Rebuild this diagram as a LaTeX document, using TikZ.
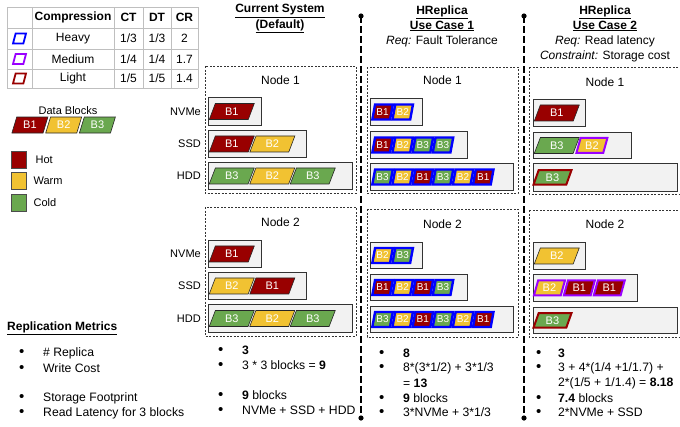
\documentclass[tikz,border=0pt]{standalone}
\usepackage{fontspec}
\setmainfont{Liberation Sans}
\usetikzlibrary{positioning}
\usetikzlibrary{shapes.geometric}

\definecolor{hotc}{HTML}{990000}
\definecolor{warmc}{HTML}{F1C232}
\definecolor{coldc}{HTML}{6AA84F}
\definecolor{heavyc}{HTML}{0000FF}
\definecolor{mediumc}{HTML}{9900FF}
\definecolor{linec}{HTML}{BFBFBF}

% fill a rack with blocks: [start shift]{rack}{style/label,...}
\newcommand{\fillrack}[3][3pt]{%
    \coordinate (#2-0) at ([xshift=#1]#2.west);
    \foreach \kind/\txt [count=\i, remember=\i as \j (initially 0)] in {#3}
        \node[\kind, right=1pt of #2-\j] (#2-\i) {\txt};
}
\newcommand{\bitem}[2][24pt]{\makebox[#1][l]{\smash{\raisebox{-0.6pt}{\fontsize{15}{15}\selectfont\textbullet}}}#2}

\begin{document}
\begin{tikzpicture}[
                x=1pt, y=-1pt,
                font=\fontsize{12}{14}\selectfont,
                blk/.style = {
                    trapezium,
                    trapezium left angle = 72,
                    trapezium right angle = 108,
                    trapezium stretches = true,
                    minimum width = 45pt,
                    minimum height = 16pt,
                    inner sep = 0pt,
                    draw = black!85,
                    line width = 0.6pt,
                    text = white,
                    font = \fontsize{11}{12}\selectfont
                },
                hot/.style = {blk, fill=hotc},
                warm/.style = {blk, fill=warmc},
                cold/.style = {blk, fill=coldc},
                sblk/.style = {blk, minimum width=20.5pt, minimum height=15pt, outer sep=0.7pt,
                    draw=heavyc, line width=2.4pt, font=\fontsize{10}{11}\selectfont},
                bhot/.style = {sblk, fill=hotc},
                bwarm/.style = {sblk, fill=warmc},
                bcold/.style = {sblk, fill=coldc},
                pblk/.style = {blk, minimum width=31pt, minimum height=15pt,
                    draw=mediumc, line width=2pt},
                phot/.style = {pblk, fill=hotc},
                pwarm/.style = {pblk, fill=warmc},
                rcold/.style = {blk, minimum width=38pt, minimum height=14.5pt,
                    draw=hotc, line width=2pt, fill=coldc},
                icon/.style = {blk, minimum width=13pt, minimum height=10pt,
                    fill=white, line width=1.8pt, font=\fontsize{5}{6}\selectfont},
                rack/.style = {draw=black!80, fill=gray!10, line width=0.9pt,
                    anchor=north west, inner sep=0pt},
                stor/.style = {inner sep=0pt, font=\fontsize{11}{12}\selectfont},
                nbox/.style = {draw=black!80, line width=0.7pt, dash pattern=on 2pt off 1.5pt},
                divider/.style = {line width=1.2pt, dash pattern=on 7pt off 3pt},
                tabline/.style = {draw=linec, line width=1pt},
                metric/.style = {anchor=west, inner sep=0pt, font=\fontsize{12.2}{14}\selectfont},
                head/.style = {font=\fontsize{12}{14}\selectfont\bfseries},
                legsq/.style = {draw=black!70, line width=0.8pt, minimum width=15pt,
                    minimum height=17pt, inner sep=0pt}
            ]
            \useasboundingbox (0,0) rectangle (680,426);
            \clip (0,0) rectangle (680,426);
            %
            % compression table
            \foreach \xx in {7,32,114,143,171,198}
                \draw[tabline] (\xx,7) -- (\xx,88);
            \foreach \yy in {7,28,49,69,88}
                \draw[tabline] (7,\yy) -- (198,\yy);
            \node[head] (th1) at (73,17.5) {Compression};
            \node[head] (th2) at (128.5,17.5) {CT};
            \node[head] (th3) at (157,17.5) {DT};
            \node[head] (th4) at (184.5,17.5) {CR};
            %
            \node[icon, draw=heavyc] (ti1) at (19.5,38.5) {\phantom{x}};
            \node (tn1) at (73,38.5) {Heavy};
            \node (tc1) at (128.5,38.5) {1/3};
            \node (td1) at (157,38.5) {1/3};
            \node (tr1) at (184.5,38.5) {2};
            %
            \node[icon, draw=mediumc] (ti2) at (19.5,59) {\phantom{x}};
            \node (tn2) at (73,59) {Medium};
            \node (tc2) at (128.5,59) {1/4};
            \node (td2) at (157,59) {1/4};
            \node (tr2) at (184.5,59) {1.7};
            %
            \node[icon, draw=hotc] (ti3) at (19.5,78.5) {\phantom{x}};
            \node (tn3) at (73,78.5) {Light};
            \node (tc3) at (128.5,78.5) {1/5};
            \node (td3) at (157,78.5) {1/5};
            \node (tr3) at (184.5,78.5) {1.4};
            %
            % legend
            \node[font=\fontsize{11}{12}\selectfont] (ldb) at (68,111) {Data Blocks};
            \node[hot, minimum width=36pt, anchor=west] (lb1) at (14,125) {B1};
            \node[warm, minimum width=36pt, right=2pt of lb1] (lb2) {B2};
            \node[cold, minimum width=36pt, right=2pt of lb2] (lb3) {B3};
            %
            \node[legsq, fill=hotc] (lsq1) at (18.5,159.5) {};
            \node[legsq, fill=warmc] (lsq2) at (18.5,181) {};
            \node[legsq, fill=coldc] (lsq3) at (18.5,202.5) {};
            \node[stor, right=9pt of lsq1] (lt1) {Hot};
            \node[stor, right=7pt of lsq2] (lt2) {Warm};
            \node[stor, right=7pt of lsq3] (lt3) {Cold};
            %
            % metrics
            \node[metric, head] (mt) at (7,328) {\underline{Replication Metrics}};
            \node[metric] (m1) at (19,353) {\bitem{\# Replica}};
            \node[metric] (m2) at (19,368) {\bitem{Write Cost}};
            \node[metric] (m3) at (19,398) {\bitem{Storage Footprint}};
            \node[metric] (m4) at (19,413) {\bitem{Read Latency for 3 blocks}};
            %
            % dividers
            \coordinate (s1t) at (361,16);
            \coordinate (s1b) at (361,418);
            \coordinate (s2t) at (524,16);
            \coordinate (s2b) at (524,418);
            \draw[divider] (s1t) -- (s1b);
            \draw[divider] (s2t) -- (s2b);
            \foreach \pp in {s1t,s1b,s2t,s2b}
                \fill (\pp) circle (2.6pt);
            %
            % ---- current system ----
            \node[head] (ah1) at (280,11) {\underline{Current System}};
            \node[head] (ah2) at (280,26) {\underline{(Default)}};
            \draw[nbox] (205,66) rectangle (356,193);
            \draw[nbox] (205,207) rectangle (356,336);
            \node (at1) at (280.5,80) {Node 1};
            \node (at2) at (280.5,222) {Node 2};
            %
            \node[rack, minimum width=53pt, minimum height=28pt] (a1n) at (208,97) {};
            \node[rack, minimum width=98pt, minimum height=27pt] (a1s) at (208,130) {};
            \node[rack, minimum width=144pt, minimum height=27pt] (a1h) at (208,162) {};
            \node[rack, minimum width=53pt, minimum height=27pt] (a2n) at (208,240) {};
            \node[rack, minimum width=98pt, minimum height=27pt] (a2s) at (208,272) {};
            \node[rack, minimum width=144pt, minimum height=28pt] (a2h) at (208,304) {};
            \node[stor, left=7pt of a1n] (a1nl) {NVMe};
            \node[stor, left=7pt of a1s] (a1sl) {SSD};
            \node[stor, left=7pt of a1h] (a1hl) {HDD};
            \node[stor, left=7pt of a2n] (a2nl) {NVMe};
            \node[stor, left=7pt of a2s] (a2sl) {SSD};
            \node[stor, left=7pt of a2h] (a2hl) {HDD};
            \fillrack{a1n}{hot/B1}
            \fillrack{a1s}{hot/B1, warm/B2}
            \fillrack{a1h}{cold/B3, warm/B2, cold/B3}
            \fillrack{a2n}{hot/B1}
            \fillrack{a2s}{warm/B2, hot/B1}
            \fillrack{a2h}{cold/B3, warm/B2, cold/B3}
            %
            \node[metric] (a-m1) at (218,350) {\bitem{\textbf{3}}};
            \node[metric] (a-m2) at (218,365) {\bitem{3 * 3 blocks = \textbf{9}}};
            \node[metric] (a-m3) at (218,395) {\bitem{\textbf{9} blocks}};
            \node[metric] (a-m4) at (218,410) {\bitem{NVMe + SSD + HDD}};
            %
            % ---- use case 1 ----
            \node[head] (bh1) at (442,12) {\underline{HReplica}};
            \node[head] (bh2) at (442,26) {\underline{Use Case 1}};
            \node (bh3) at (442,41) {\textit{Req:} Fault Tolerance};
            \draw[nbox] (367,67) rectangle (518,193);
            \draw[nbox] (367,209) rectangle (518,337);
            \node (bt1) at (442.5,80) {Node 1};
            \node (bt2) at (442.5,224) {Node 2};
            %
            \node[rack, minimum width=52pt, minimum height=27pt] (b1n) at (370,98) {};
            \node[rack, minimum width=97pt, minimum height=27pt] (b1s) at (370,131) {};
            \node[rack, minimum width=143pt, minimum height=27pt] (b1h) at (370,163) {};
            \node[rack, minimum width=52pt, minimum height=26pt] (b2n) at (370,242) {};
            \node[rack, minimum width=97pt, minimum height=26pt] (b2s) at (370,274) {};
            \node[rack, minimum width=143pt, minimum height=26pt] (b2h) at (370,306) {};
            \fillrack[2pt]{b1n}{bhot/B1, bwarm/B2}
            \fillrack[2pt]{b1s}{bhot/B1, bwarm/B2, bcold/B3, bcold/B3}
            \fillrack[2pt]{b1h}{bcold/B3, bwarm/B2, bhot/B1, bcold/B3, bwarm/B2, bhot/B1}
            \fillrack[2pt]{b2n}{bwarm/B2, bcold/B3}
            \fillrack[2pt]{b2s}{bhot/B1, bwarm/B2, bhot/B1, bcold/B3}
            \fillrack[2pt]{b2h}{bcold/B3, bwarm/B2, bhot/B1, bcold/B3, bwarm/B2, bhot/B1}
            %
            \node[metric] (b-m1) at (379,353) {\bitem{\textbf{8}}};
            \node[metric] (b-m2) at (379,368) {\bitem{8*(3*1/2) + 3*1/3}};
            \node[metric] (b-m3) at (403,383) {= \textbf{13}};
            \node[metric] (b-m4) at (379,398) {\bitem{\textbf{9} blocks}};
            \node[metric] (b-m5) at (379,412) {\bitem{3*NVMe + 3*1/3}};
            %
            % ---- use case 2 ----
            \node[head] (ch1) at (605,12) {\underline{HReplica}};
            \node[head] (ch2) at (605,26) {\underline{Use Case 2}};
            \node (ch3) at (605,41) {\textit{Req:} Read latency};
            \node (ch4) at (605,56) {\textit{Constraint:} Storage cost};
            \draw[nbox] (529,67) rectangle (690,194);
            \draw[nbox] (529,210) rectangle (690,337);
            \node (ct1) at (605,82) {Node 1};
            \node (ct2) at (605,224) {Node 2};
            %
            \node[rack, minimum width=52pt, minimum height=27pt] (c1n) at (533,99) {};
            \node[rack, minimum width=98pt, minimum height=26pt] (c1s) at (533,132) {};
            \node[rack, minimum width=144pt, minimum height=28pt] (c1h) at (533,163) {};
            \node[rack, minimum width=52pt, minimum height=27pt] (c2n) at (533,242) {};
            \node[rack, minimum width=104pt, minimum height=27pt] (c2s) at (533,274) {};
            \node[rack, minimum width=144pt, minimum height=26pt] (c2h) at (533,307) {};
            \fillrack{c1n}{hot/B1}
            \fillrack{c1s}{cold/B3, pwarm/B2}
            \fillrack[1pt]{c1h}{rcold/B3}
            \fillrack{c2n}{warm/B2}
            \fillrack[1pt]{c2s}{pwarm/B2, phot/B1, phot/B1}
            \fillrack[1pt]{c2h}{rcold/B3}
            %
            \node[metric] (c-m1) at (536,353) {\bitem[22pt]{\textbf{3}}};
            \node[metric] (c-m2) at (536,368) {\bitem[22pt]{3 + 4*(1/4 +1/1.7) +}};
            \node[metric] (c-m3) at (558,383) {2*(1/5 + 1/1.4) = \textbf{8.18}};
            \node[metric] (c-m4) at (536,398) {\bitem[22pt]{\textbf{7.4} blocks}};
            \node[metric] (c-m5) at (536,412) {\bitem[22pt]{2*NVMe + SSD}};
            %
        \end{tikzpicture}
\end{document}
